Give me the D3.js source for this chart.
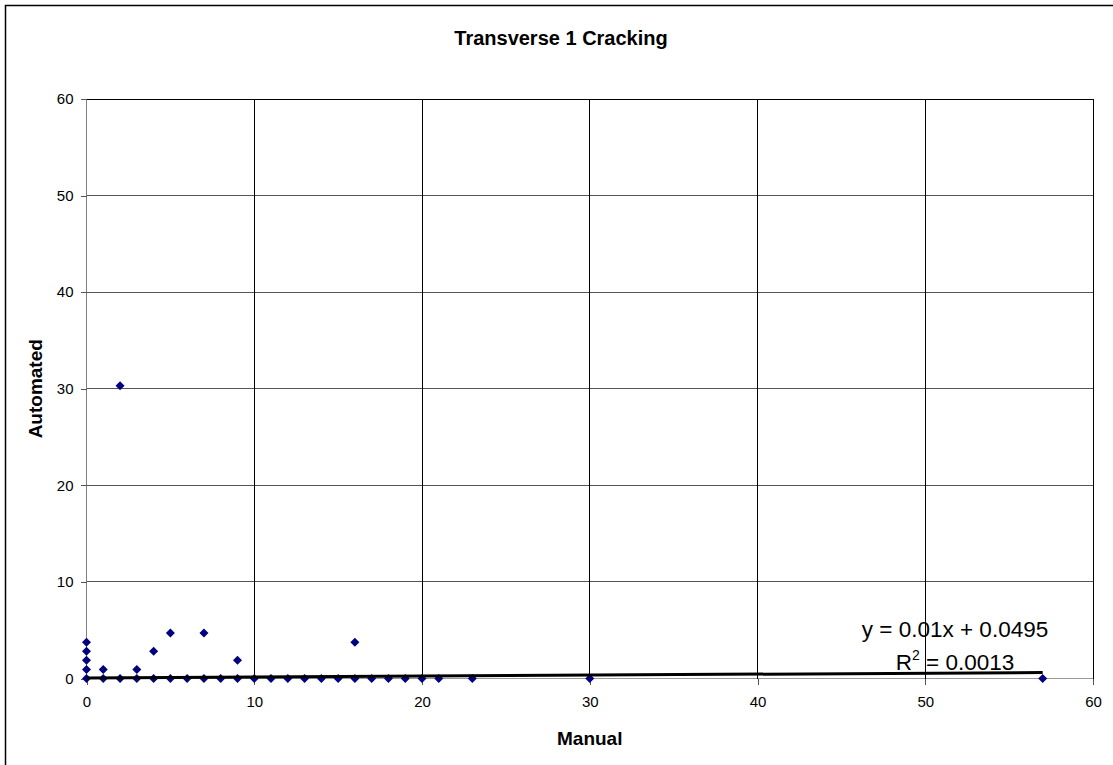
<!DOCTYPE html>
<html lang="en">
    <head>
        <meta charset="utf-8">
        <style type="text/css">
            body { margin: 0; background: #fff; }
            svg { display: block; font-family: Arial, "Liberation Sans", sans-serif; }
            .grid line { stroke-width: 1px; shape-rendering: crispEdges; }
            .axis path { display: none; }
            .axis line { stroke: #555; shape-rendering: crispEdges; }
        </style>
    </head>
    <body>
        <svg width="1113" height="765"></svg>

        <script src="https://d3js.org/d3.v7.min.js"></script>
        <script>
            // manual count vs automated count
            var manual = [0, 0, 0, 0, 0, 1, 1, 2, 2, 3, 3, 4, 4, 5, 5, 6, 7, 7, 8, 9, 9,
                          10, 11, 12, 13, 14, 15, 16, 16, 17, 18, 19, 20, 21, 23, 30, 57];
            var automated = [0, 0.94, 1.88, 2.82, 3.76, 0, 0.94, 0, 30.3, 0, 0.94, 0, 2.82, 0, 4.7, 0, 0, 4.7, 0, 0, 1.88,
                             0, 0, 0, 0, 0, 0, 0, 3.76, 0, 0, 0, 0, 0, 0, 0, 0];
            var xTicks = [0, 10, 20, 30, 40, 50, 60];
            var yTicks = [0, 10, 20, 30, 40, 50, 60];
            var trendSlope = 0.01, trendIntercept = 0.0495;
            var trendRange = [0, 57];
            var eqLines = ["y = 0.01x + 0.0495", "R", "2", " = 0.0013"];

            var svg = d3.select("svg");
            var plotLeft = 86.5, plotRight = 1093, plotTop = 99, plotBottom = 678.5;

            var x = d3.scaleLinear().domain([0, 60]).range([plotLeft, plotRight]);
            var y = d3.scaleLinear().domain([0, 60]).range([plotBottom, plotTop]);

            // outer chart frame
            svg.append("rect")
                .attr("x", 5.5).attr("y", 5.5)
                .attr("width", 1115).attr("height", 770)
                .attr("fill", "none").attr("stroke", "#000").attr("stroke-width", 1.5);

            svg.append("text")
                .attr("x", 561).attr("y", 45)
                .attr("text-anchor", "middle")
                .style("font-size", "20px").style("font-weight", "bold")
                .text("Transverse 1 Cracking");

            // gridlines
            var grid = svg.append("g").attr("class", "grid");
            grid.selectAll(".h").data(yTicks).enter().append("line")
                .attr("class", "h")
                .attr("x1", plotLeft).attr("x2", plotRight)
                .attr("y1", function (d) {return y(d);}).attr("y2", function (d) {return y(d);})
                .style("stroke", function (d) {return d === 0 ? "#999" : "#555";});
            grid.selectAll(".v").data(xTicks).enter().append("line")
                .attr("class", "v")
                .attr("x1", function (d) {return x(d);}).attr("x2", function (d) {return x(d);})
                .attr("y1", plotTop).attr("y2", plotBottom)
                .style("stroke", function (d) {return d === 0 ? "#808080" : "#000";});

            svg.append("line")
                .attr("x1", plotLeft).attr("x2", plotRight).attr("y1", plotTop).attr("y2", plotTop)
                .attr("stroke", "#000").style("shape-rendering", "crispEdges");

            svg.append("g").attr("class", "axis")
                .attr("transform", "translate(0," + plotBottom + ")")
                .call(d3.axisBottom(x).tickValues(xTicks).tickSize(6).tickPadding(12))
                .attr("font-size", 15).attr("font-family", null);

            svg.append("g").attr("class", "axis")
                .attr("transform", "translate(" + plotLeft + ",0)")
                .call(d3.axisLeft(y).tickValues(yTicks).tickSize(6).tickPadding(7))
                .attr("font-size", 15).attr("font-family", null);

            svg.append("text")
                .attr("x", (plotLeft + plotRight) / 2).attr("y", 745)
                .attr("text-anchor", "middle")
                .style("font-size", "19px").style("font-weight", "bold")
                .text("Manual");

            svg.append("text")
                .attr("transform", "translate(42," + (plotTop + plotBottom) / 2 + ") rotate(-90)")
                .attr("text-anchor", "middle")
                .style("font-size", "19px").style("font-weight", "bold")
                .text("Automated");

            // points
            var diamond = "M0,-4.5L4.5,0L0,4.5L-4.5,0Z";
            svg.append("g").selectAll("path").data(manual).enter().append("path")
                .attr("d", diamond)
                .attr("fill", "#000080")
                .attr("transform", function (d, i) {return "translate(" + x(d) + "," + y(automated[i]) + ")";});

            // linear trendline
            svg.append("line")
                .attr("x1", x(trendRange[0])).attr("y1", y(trendIntercept + trendSlope * trendRange[0]))
                .attr("x2", x(trendRange[1])).attr("y2", y(trendIntercept + trendSlope * trendRange[1]))
                .attr("stroke", "#000").attr("stroke-width", 3);

            svg.append("text")
                .attr("x", 955).attr("y", 637)
                .attr("text-anchor", "middle")
                .style("font-size", "22.5px")
                .text(eqLines[0]);

            var r2 = svg.append("text")
                .attr("x", 955).attr("y", 670)
                .attr("text-anchor", "middle")
                .style("font-size", "22.5px");
            r2.append("tspan").text(eqLines[1]);
            r2.append("tspan").attr("dy", -10).style("font-size", "14px").text(eqLines[2]);
            r2.append("tspan").attr("dy", 10).text(eqLines[3]);
        </script>
    </body>
</html>
